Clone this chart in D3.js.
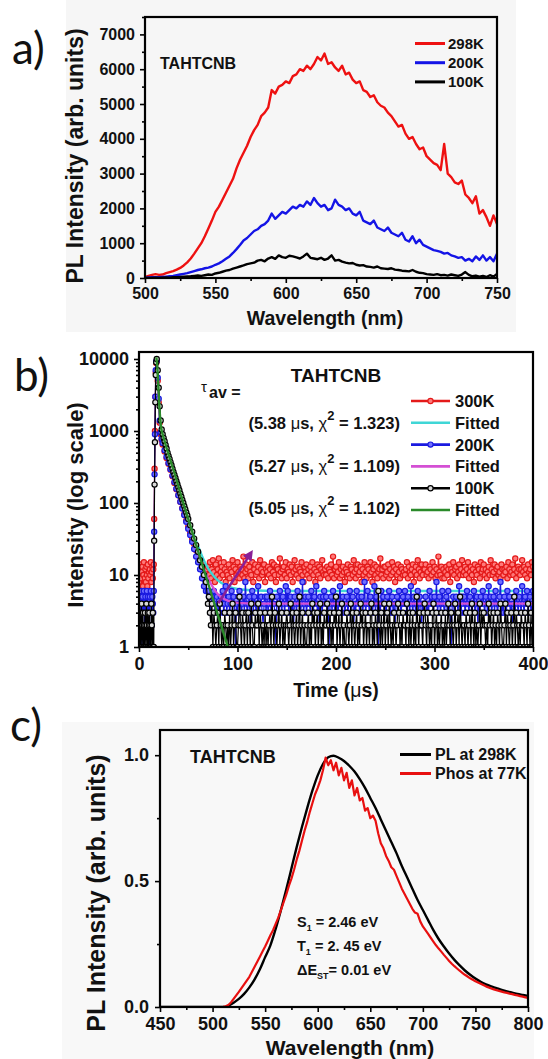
<!DOCTYPE html>
<html><head><meta charset="utf-8">
<script src="https://cdn.jsdelivr.net/npm/d3@7"></script>
<style>
body{margin:0;background:#fff}
svg{display:block}
text{font-family:"Liberation Sans",Arial,sans-serif;font-weight:bold;fill:#111}
</style>
</head><body>
<svg id="fig" width="548" height="1059"></svg>
<script>
// ---------------- Panel a data (PL vs wavelength, 2.5 nm grid 500..750) ----------------
const aWave = d3.range(500, 750.001, 2.5);
const a298K = [30,60,90,110,90,100,140,170,200,240,
 290,360,450,560,700,850,1000,1200,1420,1650,
 1900,2050,2250,2450,2650,2850,3150,3400,3600,3800,
 4050,4250,4400,4650,4750,4900,5400,5300,5500,5550,
 5650,5600,5800,5850,6000,5950,6100,6000,6150,6350,
 6250,6450,6150,6200,6050,5950,6100,5850,5900,5700,
 5600,5650,5400,5350,5200,5250,5050,4950,4900,4750,
 4650,4500,4350,4400,4150,4000,4050,3850,3700,3750,
 3500,3400,3300,3250,3100,3850,3000,2900,2750,2700,
 2800,2400,2300,2150,2350,1850,1950,1750,1500,1800,
 1550];
const a200K = [10,15,20,25,20,30,40,50,60,80,
 100,120,140,170,200,230,250,280,300,330,
 380,420,480,550,620,720,830,950,1080,1150,
 1250,1350,1400,1500,1550,1650,1850,1700,1800,1900,
 1850,1950,2050,2000,2100,2050,2200,2100,2300,2150,
 2050,2100,1950,2000,2250,2100,2050,1950,2000,1850,
 1800,1900,1650,1600,1550,1650,1450,1400,1350,1450,
 1300,1250,1200,1300,1100,1050,1200,1000,1100,950,
 900,850,800,780,750,700,720,650,620,580,
 600,500,550,480,620,520,650,500,600,480,
 700];
const a100K = [0,5,0,10,5,10,15,10,20,25,
 30,40,45,50,60,70,60,80,100,90,
 130,150,180,210,230,270,300,330,360,400,
 420,440,500,520,480,560,600,550,650,600,
 580,640,620,590,560,620,700,580,560,540,
 580,520,560,650,500,520,470,440,420,430,
 380,360,370,330,320,300,330,280,270,260,
 280,240,230,210,200,190,230,180,150,140,
 110,100,90,110,80,90,70,100,80,60,
 100,170,90,50,70,40,60,30,80,40,
 120];
const aTicksX = [500,550,600,650,700,750];
const aTicksY = [0,1000,2000,3000,4000,5000,6000,7000];

// ---------------- Panel b data (decay, log scale) ----------------
const bEarlyT = d3.range(0, 14.51, 0.5);
const b300Early = [8,12,6,14,9,5,11,13,7,10,15,6,9,12,8,13,10,7,14,9,11,6,12,10,15,8,11,13,9,12];
const b200Early = [3,5,2,4,6,3,1,5,4,3,6,2,4,5,3,4,6,2,5,3,4,1,5,4,6,3,2,5,4,3];
const b100Early = [2,1,3,1,2,4,1,2,3,1,2,1,3,2,1,4,2,1,3,1,2,3,1,2,1,4,2,1,3,1];
const b300Decay = [[15,14],[15.4,60],[15.8,300],[16.2,1000],[16.6,3000],[17,6500],[17.5,8800],[18,9500],[19,5000],[20,2500],[21,1300],[22,900],[23,750],[24,650],[26,520],[28,420],[30,350],[32,290],[34,235],[36,190],[38,155],[40,128],[42,104],[44,85],[46,70],[48,57],[50,47],[52,39],[54,32],[56,27],[58,22],[60,19],[62,16],[64,14],[66,13],[68,12]];
const b200Decay = [[15,6],[15.4,40],[15.8,250],[16.2,900],[16.6,3000],[17,7000],[17.5,9200],[18,9500],[19,5500],[20,2800],[21,1400],[22,950],[23,780],[24,680],[26,540],[28,440],[30,360],[32,295],[34,240],[36,195],[38,158],[40,128],[42,104],[44,84],[46,68],[48,55],[50,44],[52,36],[54,29],[56,23],[58,18],[60,15],[62,12],[64,9],[66,7],[68,6]];
const b100Decay = [[15,1],[15.4,30],[15.8,180],[16.2,700],[16.6,2500],[17,6000],[17.5,9000],[18,10000],[19,7000],[20,4000],[21,2200],[22,1400],[23,1050],[24,900],[25,800],[26,720],[27,640],[28,570],[29,500],[30,450],[31,410],[32,370],[33,335],[34,300],[35,270],[36,245],[37,222],[38,200],[39,182],[40,165],[41,150],[42,135],[43,122],[44,110],[45,100],[46,90],[47,82],[48,74],[49,67],[50,60],[52,49],[54,40],[56,32],[58,26],[60,21],[62,16],[64,13],[66,10],[68,8]];
const bFloorT = d3.range(70, 400.001, 1);
const b300Floor = [13,10,15,9,12,16,11,8,14,10,12,17,9,11,13,10,15,12,8,11,
 10,14,9,12,11,16,13,8,12,10,15,11,9,13,12,10,18,9,11,14,
 12,9,13,11,10,15,8,12,14,10,11,13,9,16,12,10,11,14,8,12,
 11,13,10,12,9,15,11,14,10,8,13,12,10,17,11,9,12,13,10,15,
 9,12,11,14,10,13,8,11,16,12,10,13,9,12,11,15,10,8,13,11,
 14,10,12,9,13,11,15,10,12,8,11,14,10,13,9,12,16,11,10,12,
 10,13,9,12,11,14,10,18,9,12,13,10,11,15,9,12,10,13,11,8,
 12,11,14,10,9,13,12,10,16,11,9,12,14,10,11,13,8,12,10,15,
 11,9,13,12,10,15,11,8,12,14,10,13,9,11,12,17,10,12,9,13,
 13,10,11,14,9,12,10,15,11,13,8,12,10,14,11,9,13,12,10,11,
 10,12,15,9,13,11,10,12,14,8,11,13,10,16,12,9,11,14,10,12,
 12,14,10,11,9,13,12,10,15,11,13,9,12,10,18,11,10,13,9,12,
 9,11,13,10,12,14,8,12,11,15,10,12,13,9,11,14,10,12,16,10,
 11,13,10,12,15,9,11,13,10,12,8,14,11,10,13,12,9,15,11,12,
 14,10,12,9,11,13,10,16,12,10,11,14,9,12,13,10,11,9,14,12,
 10,12,11,13,9,15,12,10,11,14,10,12,17,9,11,13,12,10,12,16,
 11,13,10,12,9,14,11,12,10,15,13];
const b200Floor = [6,5,4,3,5,4,6,3,4,5,2,4,3,5,4,6,3,4,7,3,
 4,5,3,4,6,3,5,4,1,4,3,5,6,4,3,4,5,3,8,4,
 3,4,5,2,4,6,3,5,4,3,4,7,3,4,5,3,2,4,5,3,
 5,3,4,6,3,4,5,4,3,1,5,4,3,6,4,3,5,4,3,7,
 4,6,3,4,5,3,4,2,5,4,3,6,4,5,3,4,8,3,4,5,
 3,4,5,4,3,6,4,3,5,4,7,3,4,2,5,4,3,5,6,4,
 5,3,4,1,4,5,3,6,4,3,4,5,3,4,7,4,3,5,4,3,
 4,5,3,4,6,3,4,5,2,4,3,6,4,5,3,4,5,3,4,8,
 3,4,6,4,3,5,4,3,4,7,3,5,4,1,4,3,6,4,5,3,
 4,3,5,4,6,3,4,5,3,4,2,4,5,3,6,4,3,4,5,4,
 6,4,3,5,4,3,7,4,3,5,4,3,4,6,3,5,4,2,4,3,
 4,5,3,4,3,6,4,5,4,3,5,4,8,3,4,5,3,4,6,4,
 3,4,5,3,6,4,3,1,4,5,3,4,5,4,3,7,4,3,5,4,
 5,3,4,6,4,3,5,4,3,4,6,3,4,5,2,4,3,5,4,6,
 4,3,5,4,3,7,4,5,3,4,5,3,6,4,3,4,5,8,3,4,
 3,5,4,3,6,4,5,3,4,2,4,5,3,6,4,3,5,4,3,7,
 4,3,5,4,6,3,4,5,3,4,6];
const b100Floor = [4,5,3,2,4,1,3,2,1,2,3,1,4,2,1,2,1,3,2,1,
 2,1,3,1,2,4,1,2,3,1,1,2,5,2,1,3,2,1,2,3,
 1,3,2,1,4,2,1,1,3,2,2,4,1,3,2,1,2,1,3,1,
 2,1,2,3,1,5,2,1,3,2,1,2,4,1,2,3,1,2,1,2,
 3,2,1,2,4,1,3,2,1,2,3,1,2,5,1,2,3,1,2,1,
 1,2,3,1,2,1,4,2,3,1,2,3,1,2,4,1,2,1,3,2,
 2,4,1,2,3,1,2,1,3,2,5,1,2,3,1,2,4,1,2,1,
 1,3,2,1,2,4,1,3,2,1,2,3,1,2,1,4,2,3,1,2,
 3,1,2,2,1,3,4,1,2,1,3,2,1,6,2,1,3,1,2,4,
 1,2,3,1,4,2,1,2,1,3,2,1,2,4,3,1,2,1,3,2,
 2,1,4,2,1,3,1,2,3,1,2,1,5,2,1,3,2,2,1,3,
 4,2,1,3,2,1,2,1,3,4,1,2,3,1,2,1,2,3,1,2,
 1,3,1,2,4,2,1,3,2,1,2,4,1,2,3,1,5,2,1,2,
 2,1,3,2,1,2,3,1,4,2,1,3,1,2,1,2,4,1,3,2,
 3,2,1,2,1,4,2,3,1,2,3,1,2,1,3,2,1,4,2,1,
 1,2,4,1,3,2,1,2,3,1,2,5,1,3,2,1,2,1,3,2,
 2,1,3,2,1,4,2,1,3,1,2];
const bFit300 = [[17.6,10000],[18.5,7500],[19.5,4000],[20.5,2100],[21.5,1300],[22.5,950],[24,800],[26,640],[28,520],[30,420],[33,315],[36,235],[40,158],[45,96],[50,60],[55,38],[60,25],[65,17],[70,12.5],[75,10],[80,8.4],[90,7],[100,6.4],[120,6.1],[150,6],[400,6]];
const bFit200 = [[17.6,10000],[18.5,7600],[19.5,4200],[20.5,2200],[21.5,1350],[22.5,980],[24,820],[26,650],[28,525],[30,425],[33,318],[36,236],[40,158],[45,95],[50,58],[55,35],[60,20],[65,13],[70,9],[75,6.8],[80,5.4],[90,4.4],[100,4.1],[120,4],[150,4],[400,4]];
const bFit100 = [[17.6,10500],[18.5,8000],[19.5,4500],[20.5,2400],[21.5,1500],[22.5,1100],[24,900],[26,720],[28,580],[30,470],[33,350],[36,260],[40,170],[45,100],[50,60],[55,36],[60,21.5],[65,13],[70,7.8],[75,4.7],[80,2.8],[85,1.7],[90,1.02],[95,0.62]];
const bArrow = [[80.5,4.05],[116.8,22.7]];
const bTicksX = [0,100,200,300,400];
const bTicksY = [1,10,100,1000,10000];
const bTau = [["5.38","1.323"],["5.27","1.109"],["5.05","1.102"]];

// ---------------- Panel c data (normalised PL vs phosphorescence) ----------------
const cWaveRed = d3.range(450, 800.001, 2.5);
const cPhos77K = [0,0,0,0,0,0,0,0,0,0,
 0,0,0,0,0,0,0,0,0,0,
 0,0,0,0,0.001,0.003,0.008,0.018,0.032,0.046,
 0.06,0.075,0.09,0.105,0.12,0.14,0.16,0.18,0.2,0.22,
 0.24,0.262,0.285,0.305,0.33,0.355,0.385,0.415,0.445,0.48,
 0.51,0.545,0.585,0.62,0.66,0.7,0.735,0.775,0.81,0.845,
 0.87,0.9,0.94,0.99,0.96,0.98,0.94,0.97,0.92,0.95,
 0.9,0.93,0.87,0.9,0.84,0.87,0.82,0.83,0.78,0.79,
 0.75,0.76,0.74,0.69,0.65,0.63,0.6,0.58,0.555,0.545,
 0.52,0.495,0.47,0.45,0.43,0.41,0.39,0.375,0.37,0.34,
 0.32,0.305,0.29,0.275,0.26,0.245,0.232,0.22,0.207,0.195,
 0.183,0.172,0.162,0.153,0.144,0.136,0.128,0.121,0.114,0.108,
 0.102,0.097,0.092,0.087,0.082,0.078,0.074,0.07,0.067,0.064,
 0.061,0.058,0.056,0.053,0.051,0.048,0.046,0.043,0.041,0.038,
 0.036];
const cWaveBlack = d3.range(450, 800.001, 5);
const cPL298K = [0,0,0,0,0,0,0,0,0,0,
 0,0,0,0.005,0.017,0.032,0.052,0.078,0.11,0.15,
 0.198,0.245,0.31,0.385,0.465,0.55,0.635,0.715,0.79,0.86,
 0.92,0.965,0.992,0.998,0.99,0.977,0.958,0.935,0.905,0.87,
 0.83,0.79,0.745,0.70,0.655,0.61,0.56,0.515,0.47,0.425,
 0.385,0.345,0.305,0.27,0.24,0.212,0.187,0.165,0.145,0.128,
 0.113,0.1,0.09,0.082,0.075,0.068,0.062,0.057,0.052,0.048,
 0.044];
const cTicksX = [450,500,550,600,650,700,750,800];
const cTicksY = [0,0.5,1.0];

// ---------------- drawing ----------------
const svg = d3.select("#fig");
svg.append("rect").attr("width",548).attr("height",1059).attr("fill","#fff");
svg.append("rect").attr("x",66).attr("y",0).attr("width",450).attr("height",332).attr("fill","#f6f6f6");
svg.append("rect").attr("x",62).attr("y",722).attr("width",472).attr("height",337).attr("fill","#f8f8f8");

function styleAxis(g, fs){
  g.select(".domain").remove();
  g.selectAll("line").attr("stroke","#000").attr("stroke-width",1.6);
  g.selectAll("text").style("font-size",fs+"px").attr("fill","#111");
}
function drawAxes(P, xs, ys, o){
  const gx = svg.append("g").attr("transform",`translate(0,${P.y1})`)
    .call(d3.axisBottom(xs).tickValues(o.xMajor).tickSize(5).tickPadding(o.xPad).tickFormat(o.xFmt));
  styleAxis(gx, o.fs);
  const gxm = svg.append("g").attr("transform",`translate(0,${P.y1})`)
    .call(d3.axisBottom(xs).tickValues(o.xMinor).tickSize(3).tickFormat(""));
  styleAxis(gxm, o.fs);
  const gy = svg.append("g").attr("transform",`translate(${P.x0},0)`)
    .call(d3.axisLeft(ys).tickValues(o.yMajor).tickSize(5).tickPadding(o.yPad).tickFormat(o.yFmt));
  styleAxis(gy, o.fs);
  const gym = svg.append("g").attr("transform",`translate(${P.x0},0)`)
    .call(d3.axisLeft(ys).tickValues(o.yMinor).tickSize(3).tickFormat(""));
  styleAxis(gym, o.fs);
  svg.append("rect").attr("x",P.x0).attr("y",P.y0).attr("width",P.x1-P.x0).attr("height",P.y1-P.y0)
    .attr("fill","none").attr("stroke","#000").attr("stroke-width",2.2);
}
function clip(id,P){
  svg.append("clipPath").attr("id",id).append("rect")
    .attr("x",P.x0).attr("y",P.y0).attr("width",P.x1-P.x0).attr("height",P.y1-P.y0);
}
function panelLabel(t,x,y){
  svg.append("text").attr("x",x).attr("y",y).text(t)
    .style("font-family","Lato, 'Open Sans', sans-serif").style("font-weight","400")
    .style("font-size","44px").attr("fill","#222");
}

// ===== Panel a =====
const A = {x0:145,x1:497,y0:17,y1:278};
const xa = d3.scaleLinear().domain([500,750]).range([A.x0,A.x1]);
const ya = d3.scaleLinear().domain([0,7500]).range([A.y1,A.y0]);
clip("clipA",A);
const gA = svg.append("g").attr("clip-path","url(#clipA)");
const lineA = d3.line().x((d,i)=>xa(aWave[i])).y(d=>ya(d));
[[a298K,"#ee1111"],[a200K,"#1414e6"],[a100K,"#000"]].forEach(([s,c])=>{
  gA.append("path").attr("d",lineA(s)).attr("fill","none").attr("stroke",c)
    .attr("stroke-width",2.4).attr("stroke-linejoin","round");
});
drawAxes(A, xa, ya, {xMajor:aTicksX, xMinor:[525,575,625,675,725], xPad:5, xFmt:d3.format("d"),
  yMajor:aTicksY, yMinor:[500,1500,2500,3500,4500,5500,6500,7500], yPad:5, yFmt:d3.format("d"), fs:16});
svg.append("text").attr("x",160).attr("y",63).attr("dominant-baseline","central").style("font-size","16px").text("TAHTCNB");
[["298K","#ee1111"],["200K","#1414e6"],["100K","#000"]].forEach(([t,c],i)=>{
  const y = 43.5 + i*19.2;
  svg.append("line").attr("x1",415).attr("x2",445).attr("y1",y).attr("y2",y).attr("stroke",c).attr("stroke-width",3);
  svg.append("text").attr("x",448).attr("y",y).attr("dominant-baseline","central").style("font-size","15px").text(t);
});
svg.append("text").attr("transform","translate(75,156) rotate(-90)").attr("text-anchor","middle")
  .attr("dominant-baseline","central").style("font-size","23px").text("PL Intensity (arb. units)");
svg.append("text").attr("x",325).attr("y",325).attr("text-anchor","middle").style("font-size","19.5px").text("Wavelength (nm)");
panelLabel("a)",12,64);

// ===== Panel b =====
const B = {x0:139,x1:533,y0:352,y1:647};
const xb = d3.scaleLinear().domain([0,400]).range([B.x0,B.x1]);
const yb = d3.scaleLog().domain([1,12500]).range([B.y1,B.y0]);
clip("clipB",B);
const gB = svg.append("g").attr("clip-path","url(#clipB)");
function series(early, decay, floor){
  return early.map((v,i)=>[bEarlyT[i],v]).concat(decay).concat(floor.map((v,i)=>[bFloorT[i],v]));
}
const lineB = d3.line().x(d=>xb(d[0])).y(d=>yb(d[1]));
const fitB = d3.line().x(d=>xb(d[0])).y(d=>yb(d[1])).curve(d3.curveMonotoneX);
function drawData(data, stroke, fill){
  gB.append("path").attr("d",lineB(data)).attr("fill","none").attr("stroke",stroke).attr("stroke-width",1.2);
  gB.append("g").selectAll("circle").data(data).join("circle")
    .attr("cx",d=>xb(d[0])).attr("cy",d=>yb(d[1])).attr("r",2.6)
    .attr("fill",fill).attr("stroke",stroke).attr("stroke-width",1.2);
}
function drawFit(data, stroke){
  gB.append("path").attr("d",fitB(data)).attr("fill","none").attr("stroke",stroke).attr("stroke-width",2.4);
}
drawData(series(b300Early,b300Decay,b300Floor),"#e41a1a","#ff7a7a");
drawFit(bFit300,"#3fd6d6");
drawData(series(b200Early,b200Decay,b200Floor),"#1a1ae0","#7070ff");
drawFit(bFit200,"#d44fd4");
drawData(series(b100Early,b100Decay,b100Floor),"#000","#d8d8d8");
drawFit(bFit100,"#2a8a2a");
// arrow
svg.append("defs").append("marker").attr("id","arr").attr("viewBox","0 0 10 10").attr("refX",5).attr("refY",5)
  .attr("markerWidth",4).attr("markerHeight",4).attr("orient","auto")
  .append("path").attr("d","M0,0 L10,5 L0,10 z").attr("fill","#8a1f96");
svg.append("line").attr("x1",xb(bArrow[0][0])).attr("y1",yb(bArrow[0][1]))
  .attr("x2",xb(bArrow[1][0])-4).attr("y2",yb(bArrow[1][1])+5)
  .attr("stroke","#8a1f96").attr("stroke-width",2.6).attr("marker-end","url(#arr)");
drawAxes(B, xb, yb, {xMajor:bTicksX, xMinor:[50,150,250,350], xPad:5, xFmt:d3.format("d"),
  yMajor:bTicksY, yMinor:[2,3,4,5,6,7,8,9,20,30,40,50,60,70,80,90,200,300,400,500,600,700,800,900,2000,3000,4000,5000,6000,7000,8000,9000],
  yPad:5, yFmt:d3.format("d"), fs:18});
svg.append("text").attr("x",336).attr("y",375).attr("text-anchor","middle").attr("dominant-baseline","central")
  .style("font-size","19px").text("TAHTCNB");
svg.append("text").attr("x",201).attr("y",392).style("font-size","15px").style("font-weight","normal").text("τ");
svg.append("text").attr("x",209).attr("y",398).style("font-size","16px").text("av =");
bTau.forEach(([tau,chi],i)=>{
  const t = svg.append("text").attr("x",400).attr("y",429 + i*42.5).attr("text-anchor","end").style("font-size","16.5px");
  t.append("tspan").text("("+tau+" ");
  t.append("tspan").style("font-weight","normal").text("μ");
  t.append("tspan").text("s, ");
  t.append("tspan").style("font-weight","normal").text("χ");
  t.append("tspan").attr("dy",-9).style("font-size","13px").text("2");
  t.append("tspan").attr("dy",9).text(" = "+chi+")");
});
const legB = [["300K","#e41a1a","#ff7a7a"],["Fitted","#3fd6d6",null],["200K","#1a1ae0","#7070ff"],["Fitted","#d44fd4",null],["100K","#000","#d8d8d8"],["Fitted","#2a8a2a",null]];
legB.forEach(([t,c,f],i)=>{
  const y = 401 + i*21.8;
  svg.append("line").attr("x1",411).attr("x2",450).attr("y1",y).attr("y2",y).attr("stroke",c).attr("stroke-width",2.6);
  if(f) svg.append("circle").attr("cx",430.5).attr("cy",y).attr("r",2.6).attr("fill",f).attr("stroke",c).attr("stroke-width",1.2);
  svg.append("text").attr("x",455).attr("y",y).attr("dominant-baseline","central").style("font-size","16.5px").text(t);
});
svg.append("text").attr("transform","translate(75,505) rotate(-90)").attr("text-anchor","middle")
  .attr("dominant-baseline","central").style("font-size","22px").text("Intensity (log scale)");
const tb = svg.append("text").attr("x",336).attr("y",697).attr("text-anchor","middle").style("font-size","19.5px");
tb.append("tspan").text("Time (");
tb.append("tspan").style("font-weight","normal").text("μ");
tb.append("tspan").text("s)");
panelLabel("b)",14,391);

// ===== Panel c =====
const C = {x0:160,x1:528,y0:730,y1:1007};
const xc = d3.scaleLinear().domain([450,800]).range([C.x0,C.x1]);
const yc = d3.scaleLinear().domain([0,1.1]).range([C.y1,C.y0]);
clip("clipC",C);
const gC = svg.append("g").attr("clip-path","url(#clipC)");
gC.append("path").attr("d",d3.line().x((d,i)=>xc(cWaveBlack[i])).y(d=>yc(d)).curve(d3.curveMonotoneX)(cPL298K))
  .attr("fill","none").attr("stroke","#000").attr("stroke-width",2.4);
gC.append("path").attr("d",d3.line().x((d,i)=>xc(cWaveRed[i])).y(d=>yc(d))(cPhos77K))
  .attr("fill","none").attr("stroke","#e81010").attr("stroke-width",2.2).attr("stroke-linejoin","round");
drawAxes(C, xc, yc, {xMajor:cTicksX, xMinor:[475,525,575,625,675,725,775], xPad:5, xFmt:d3.format("d"),
  yMajor:cTicksY, yMinor:[0.25,0.75], yPad:6, yFmt:d3.format(".1f"), fs:18});
svg.append("text").attr("x",190).attr("y",757).attr("dominant-baseline","central").style("font-size","18px").text("TAHTCNB");
[["PL at 298K","#000"],["Phos at 77K","#e81010"]].forEach(([t,c],i)=>{
  const y = 754.5 + i*19;
  svg.append("line").attr("x1",400).attr("x2",431).attr("y1",y).attr("y2",y).attr("stroke",c).attr("stroke-width",3);
  svg.append("text").attr("x",435).attr("y",y).attr("dominant-baseline","central").style("font-size","16px").text(t);
});
function energy(y, main, sub, rest){
  const t = svg.append("text").attr("x",297).attr("y",y).style("font-size","14.5px");
  t.append("tspan").text(main);
  t.append("tspan").attr("dy",4).style("font-size","9px").text(sub);
  t.append("tspan").attr("dy",-4).text(rest);
}
energy(927,"S","1"," = 2.46 eV");
energy(951,"T","1"," = 2. 45 eV");
energy(975,"ΔE","ST","= 0.01 eV");
svg.append("text").attr("transform","translate(96,893) rotate(-90)").attr("text-anchor","middle")
  .attr("dominant-baseline","central").style("font-size","25px").text("PL Intensity (arb. units)");
svg.append("text").attr("x",350).attr("y",1055).attr("text-anchor","middle").style("font-size","21px").text("Wavelength (nm)");
panelLabel("c)",10,741);
</script>
</body></html>
